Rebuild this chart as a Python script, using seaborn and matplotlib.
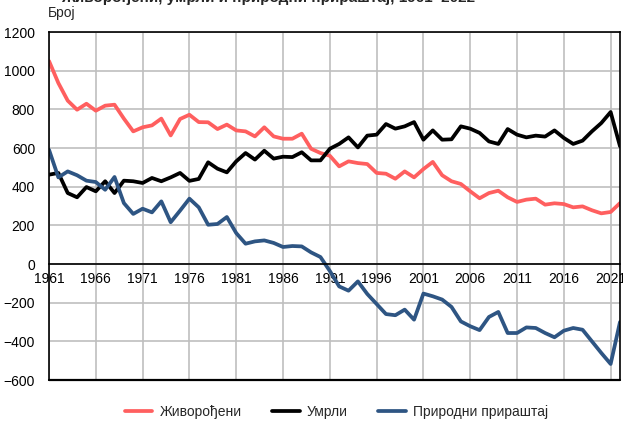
import matplotlib
matplotlib.use("Agg")
import matplotlib.pyplot as plt
import numpy as np
import pandas as pd
import seaborn as sns

# ── data ───────────────────────────────────────────────────────────────────────
years = list(range(1961, 2023))

births = [1050, 936, 845, 798, 829, 793, 819, 824, 752, 686,
          707, 717, 752, 665, 750, 772, 734, 733, 698, 721,
          691, 686, 660, 707, 660, 648, 648, 674, 596, 574,
          560, 505, 531, 522, 517, 471, 467, 441, 479, 448,
          491, 528, 459, 428, 414, 376, 340, 367, 379, 345,
          321, 333, 338, 307, 314, 310, 293, 298, 278, 262,
          269, 315]

deaths = [462, 471, 367, 345, 398, 376, 428, 367, 431, 428,
          419, 445, 428, 448, 471, 430, 440, 526, 493, 474,
          531, 574, 540, 586, 545, 555, 553, 578, 536, 536,
          596, 621, 655, 603, 664, 669, 724, 700, 712, 734,
          643, 691, 643, 645, 712, 700, 678, 634, 621, 698,
          669, 655, 664, 659, 691, 652, 621, 638, 686, 729,
          786, 609]

increase = [591, 448, 479, 459, 431, 424, 384, 450, 315, 259,
            286, 267, 324, 216, 276, 338, 293, 203, 207, 243,
            160, 105, 117, 122, 109, 88, 93, 91, 60, 36,
            -36, -116, -138, -90, -155, -207, -259, -265, -236, -288,
            -153, -167, -184, -222, -297, -322, -342, -274, -248, -357,
            -357, -328, -331, -357, -379, -345, -331, -340, -400, -460,
            -517, -300]

series_names = ["Живорођени", "Умрли", "Природни прираштај"]
colors = ["#FF5F5F", "#000000", "#2E5583"]

df = pd.concat([
    pd.DataFrame({"year": years, "value": births, "series": series_names[0]}),
    pd.DataFrame({"year": years, "value": deaths, "series": series_names[1]}),
    pd.DataFrame({"year": years, "value": increase, "series": series_names[2]}),
])

# ── plot ───────────────────────────────────────────────────────────────────────
sns.set_theme(style="white")
plt.rcParams["font.family"] = ["Liberation Sans", "DejaVu Sans"]

fig = plt.figure(figsize=(6.23, 4.21), dpi=100)
ax = fig.add_axes([49 / 623, 1 - 380 / 421, (620 - 49) / 623, (380 - 32) / 421])

ax.grid(True, color="#BFBFBF", linewidth=1.2)
ax.set_axisbelow(True)

sns.lineplot(data=df, x="year", y="value", hue="series",
             palette=dict(zip(series_names, colors)), linewidth=2.7,
             ax=ax, legend=False)

ax.set_xlim(1961, 2022)
ax.set_ylim(-600, 1200)
ax.set_xticks(range(1961, 2022, 5))
ax.set_yticks(range(-600, 1201, 200))
ax.set_xlabel("")
ax.set_ylabel("")
ax.tick_params(axis="both", length=0, labelsize=10, colors="#000000")
ax.tick_params(axis="x", pad=6)
ax.tick_params(axis="y", pad=10)

for side in ["left", "right", "top", "bottom"]:
    ax.spines[side].set_color("#000000")
    ax.spines[side].set_linewidth(1.2)
ax.spines["bottom"].set_position(("data", 0))
ax.axhline(-600, color="#000000", linewidth=1.6, clip_on=False)

ax.annotate("Број", xy=(0, 1), xycoords="axes fraction", xytext=(-1, 9),
            textcoords="offset points", ha="left", va="bottom", fontsize=10)

fig.text(0.43, 1.006, "Живорођени, умрли и природни прираштај, 1961–2022",
         ha="center", va="center", fontsize=11, fontweight="bold")

handles = [plt.Line2D([0], [0], color=c, linewidth=2.7) for c in colors]
fig.legend(handles, series_names, loc="lower center", ncol=3, frameon=False,
           bbox_to_anchor=(0.54, -0.025), fontsize=10, handlelength=2.0,
           handletextpad=0.5, columnspacing=2.2)

fig.savefig("out.png", dpi=100)
